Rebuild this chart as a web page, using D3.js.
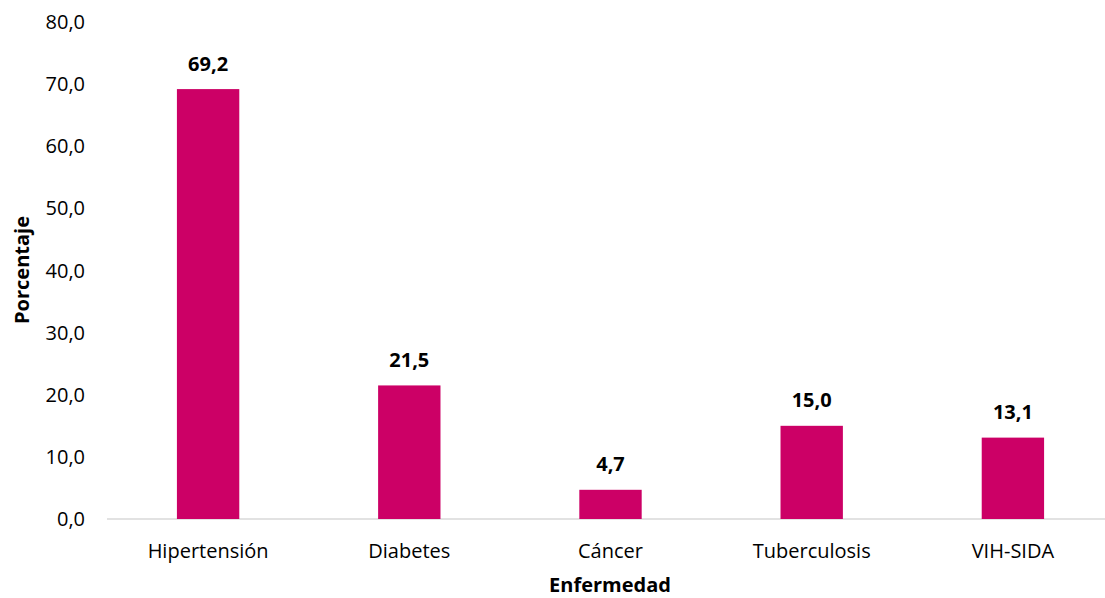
<!DOCTYPE html>
<html><head><meta charset="utf-8">
<script src="https://cdn.jsdelivr.net/npm/d3@7"></script>
<style>body{margin:0;background:#fff}svg{display:block}text{font-family:"Open Sans",sans-serif;fill:#000}</style>
</head><body><svg id="c" width="1105" height="598"></svg>
<script>
const categories = ["Hipertensión","Diabetes","Cáncer","Tuberculosis","VIH-SIDA"];
const values = [69.2, 21.5, 4.7, 15.0, 13.1];
const yTicks = [0,10,20,30,40,50,60,70,80];
const yTitle = "Porcentaje";
const xTitle = "Enfermedad";

const svg = d3.select("#c");
const fmt = v => v.toFixed(1).replace(".", ",");
const y = d3.scaleLinear().domain([0,80]).range([519,22]);
const x = d3.scaleBand().domain(categories).range([107.5,1113.5]).paddingInner(0.69).paddingOuter(0.345);

svg.append("line").attr("x1",107).attr("x2",1105).attr("y1",y(0)).attr("y2",y(0))
  .attr("stroke","#d9d9d9").attr("stroke-width",1.5);

svg.selectAll(".yt").data(yTicks).enter().append("text")
  .attr("x",85).attr("y",d=>y(d)+7).attr("text-anchor","end")
  .style("font-size","20px").text(fmt);

svg.selectAll(".bar").data(values).enter().append("rect")
  .attr("x",(d,i)=>x(categories[i])).attr("width",x.bandwidth())
  .attr("y",d=>y(d)).attr("height",d=>y(0)-y(d)).attr("fill","#cc0066");

svg.selectAll(".dl").data(values).enter().append("text")
  .attr("x",(d,i)=>x(categories[i])+x.bandwidth()/2).attr("y",d=>y(d)-18.5)
  .attr("text-anchor","middle").style("font-size","20px").style("font-weight","bold").text(fmt);

svg.selectAll(".cl").data(categories).enter().append("text")
  .attr("x",d=>x(d)+x.bandwidth()/2).attr("y",557.5)
  .attr("text-anchor","middle").style("font-size","20px").text(d=>d);

svg.append("text").attr("x",610).attr("y",591.5).attr("text-anchor","middle")
  .style("font-size","20px").style("font-weight","bold").text(xTitle);
svg.append("text").attr("transform","translate(28.5,270) rotate(-90)").attr("text-anchor","middle")
  .style("font-size","20px").style("font-weight","bold").text(yTitle);
</script></body></html>
